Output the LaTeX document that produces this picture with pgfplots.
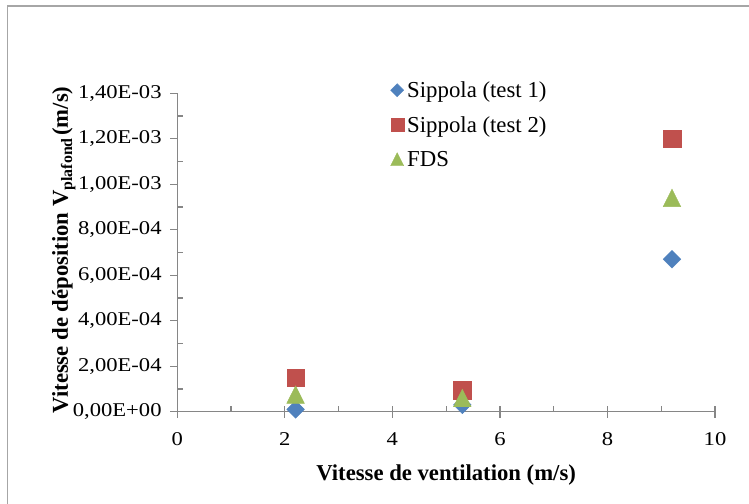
\documentclass[border=0pt]{standalone}
\usepackage{pgfplots}
\pgfplotsset{compat=1.18}
\usepackage{fontspec}
\setmainfont{Liberation Serif}
\newfontfamily\tickfont{Liberation Serif}[FakeStretch=1.16]
\definecolor{sblue}{HTML}{4F81BD}
\definecolor{sred}{HTML}{C0504D}
\definecolor{sgreen}{HTML}{9BBB59}
\definecolor{axgray}{HTML}{868686}
\definecolor{bordergray}{HTML}{A6A6A6}
\begin{document}
\begin{tikzpicture}
\useasboundingbox (0,0) rectangle (749bp,504bp);
\draw[bordergray, line width=1.5bp] (7.5bp,-2bp) -- (7.5bp,498bp) -- (752bp,498bp);
\begin{axis}[
  at={(177.3bp,92.3bp)}, anchor=south west,
  scale only axis, width=537.7bp, height=318.4bp,
  xmin=0, xmax=10, ymin=0, ymax=1.4e-3,
  axis x line*=bottom, axis y line*=left,
  axis line style={axgray, line width=1.3bp},
  clip=false,
  scaled y ticks=false, scaled x ticks=false,
  xtick={0,2,4,6,8,10},
  xticklabels={0,2,4,6,8,10},
  minor x tick num=1,
  extra x ticks={0,2,4,6,8,10},
  extra x tick labels={},
  extra x tick style={major tick length=12bp, tick align=center},
  ytick={0,2e-4,4e-4,6e-4,8e-4,1e-3,1.2e-3,1.4e-3},
  yticklabels={{0,00E+00},{2,00E-04},{4,00E-04},{6,00E-04},{8,00E-04},{1,00E-03},{1,20E-03},{1,40E-03}},
  minor y tick num=1,
  tick style={axgray, line width=1.3bp},
  tick align=center,
  major tick length=7bp, minor tick length=6bp,
  every minor x tick/.append style={yshift=3bp},
  every major y tick/.append style={xshift=-3.5bp},
  every minor y tick/.append style={xshift=3bp},
  xticklabel style={font=\tickfont\fontsize{19.5bp}{23bp}\selectfont, anchor=north, inner sep=0pt, yshift=-17bp},
  yticklabel style={font=\tickfont\fontsize{19.5bp}{23bp}\selectfont, anchor=east, inner sep=0pt, xshift=-12bp},
  xlabel={Vitesse de ventilation (m/s)},
  xlabel style={font=\fontsize{22.7bp}{27bp}\selectfont\bfseries, at={(axis description cs:0.5,0)}, anchor=base, yshift=-68.3bp},
  ylabel={Vitesse de déposition V\textsubscript{plafond}\kern2bp(m/s)},
  ylabel style={font=\fontsize{22.7bp}{27bp}\selectfont\bfseries, at={(axis description cs:-0.2033,0.508)}, anchor=base},
  legend style={at={(0.3965,1.037)}, anchor=north west, draw=none, fill=none, inner sep=0pt,
    row sep=13.5bp, column sep=3.5bp,
    font=\fontsize{22.8bp}{27bp}\selectfont,
    cells={anchor=west},
    nodes={inner sep=0pt, text height=16bp, text depth=5bp}},
]
\addplot[only marks, mark=square*, mark size=6.26bp,
  mark options={rotate=45, draw=sblue, fill=sblue},
  legend image code/.code={\path[draw=sblue, fill=sblue] plot[only marks, mark=square*, mark size=4.6bp, mark options={rotate=45}] coordinates {(0bp,2bp)};}]
  coordinates {(2.2,1.0e-5) (5.3,3.0e-5) (9.2,6.7e-4)};
\addlegendentry{Sippola (test 1)}
\addplot[only marks, mark=square*, mark size=8.85bp,
  mark options={draw=sred, fill=sred},
  legend image code/.code={\path[draw=sred, fill=sred] plot[only marks, mark=square*, mark size=6.5bp] coordinates {(0bp,2bp)};}]
  coordinates {(2.2,1.5e-4) (5.3,9.5e-5) (9.2,1.2e-3)};
\addlegendentry{Sippola (test 2)}
\addplot[only marks, mark=triangle*, mark size=10.2bp,
  mark options={draw=sgreen, fill=sgreen, yscale=1.15, yshift=-2.5bp},
  legend image code/.code={\path[draw=sgreen, fill=sgreen] plot[only marks, mark=triangle*, mark size=7.5bp, mark options={yscale=1.15, yshift=-1.9bp}] coordinates {(0bp,2bp)};}]
  coordinates {(2.2,7.5e-5) (5.3,6.0e-5) (9.2,9.4e-4)};
\addlegendentry{FDS}
\end{axis}
\end{tikzpicture}
\end{document}
